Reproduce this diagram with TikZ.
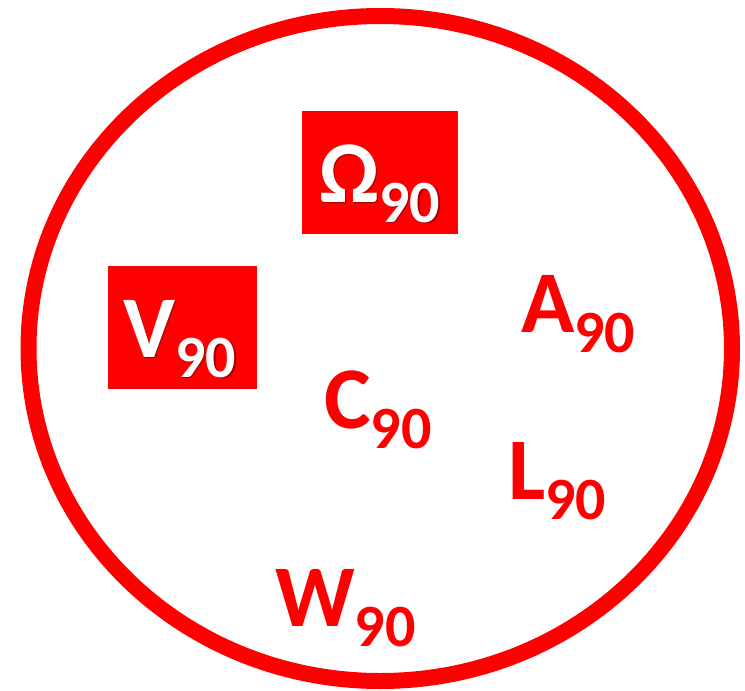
\documentclass[tikz,border=0pt]{standalone}
\usepackage{fontspec}
\setmainfont{Carlito}[Numbers=Lining]
\usepackage{xcolor}
\usepackage{tikz}
\usetikzlibrary{positioning}

\definecolor{sigred}{RGB}{255,0,0}
\newcommand{\subninety}[1]{#1\raisebox{-20pt}{\fontsize{60}{60}\selectfont 90}}

\begin{document}
\begin{tikzpicture}[
    x=1pt, y=-1pt,
    ring/.style={draw=sigred, line width=16pt},
    redbox/.style={rectangle, fill=sigred, inner sep=0pt},
    label/.style={inner sep=0pt, anchor=base west, text=sigred, font=\fontsize{88}{88}\selectfont\bfseries},
    boxlabel/.style={label, text=white},
    boxshadow/.style={label, text=black!60!sigred, opacity=0.6},
  ]
    \useasboundingbox (0,0) rectangle (745,691);

    % outer ring
    \draw[ring] (380.25,348.5) ellipse [x radius=351.75, y radius=332.5];

    % Omega box
    \node[redbox, minimum width=156pt, minimum height=123pt] (omegabox) at (380,172.5) {};
    \node[boxshadow] (omegashadow) at (320.5,203.5) {\subninety{Ω}};
    \node[boxlabel] (omega) at (319,202) {\subninety{Ω}};

    % V box
    \node[redbox, minimum width=149pt, minimum height=123pt] (vbox) at (182.5,327.5) {};
    \node[boxshadow] (vshadow) at (124.5,358.5) {\subninety{V}};
    \node[boxlabel] (v) at (123,357) {\subninety{V}};

    % plain labels
    \node[label] (a) at (521,332) {\subninety{A}};
    \node[label] (c) at (324,428) {\subninety{C}};
    \node[label] (l) at (508,499) {\subninety{L}};
    \node[label] (w) at (275,626) {\subninety{W}};

  \end{tikzpicture}
\end{document}
